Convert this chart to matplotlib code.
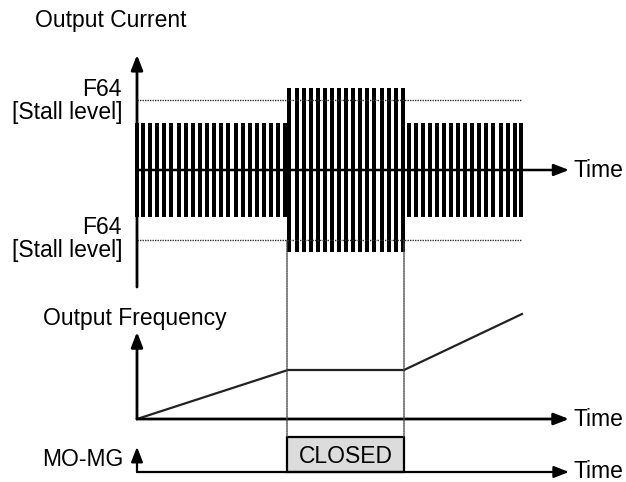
import matplotlib
matplotlib.use("Agg")
import matplotlib.pyplot as plt
from matplotlib.patches import Rectangle, ConnectionPatch

plt.rcParams['font.family'] = ['Liberation Sans', 'DejaVu Sans']

# ---------------- data ----------------
# pulse centres of the output current (time units)
normal_pulses_1 = [0, 6, 13, 20, 27, 34, 42, 49, 56, 63, 70, 77, 84, 91, 99,
                   106, 113, 120, 127, 134, 141, 148]
stall_pulses = [152, 160, 167, 174, 181, 188, 195, 202, 209, 216, 223, 230,
                237, 245, 252, 259, 266]
normal_pulses_2 = [272, 279, 286, 293, 300, 307, 314, 321, 328, 335, 342, 349,
                   356, 364, 371, 378, 384]
normal_amp = 1.0          # normal current peak
stall_amp = 1.75          # current peak during stall
stall_level = 1.5         # F64 stall level
time_end = 385

# output frequency profile
freq_t = [0, 151, 267, 385]
freq_v = [0, 49, 49, 105]

# MO-MG output
closed_start, closed_end = 150, 267

# ---------------- figure ----------------
W, H = 626, 482
FS = 16.5
fig = plt.figure(figsize=(W / 100, H / 100), dpi=100)
XL = (-137, 489)          # time axis mapped across full width


def band(ptop, pbot, ylim):
    ax = fig.add_axes([0, (H - pbot) / H, 1, (pbot - ptop) / H])
    ax.set_xlim(*XL)
    ax.set_ylim(*ylim)
    ax.axis('off')
    return ax


def arrow(ax, start, end, lw=2.0):
    ax.annotate('', xy=end, xytext=start,
                arrowprops=dict(arrowstyle='-|>,head_length=0.9,head_width=0.35',
                                lw=lw, color='black', shrinkA=0, shrinkB=0),
                annotation_clip=False)


def ftext(x, y, s, **kw):
    fig.text(x / W, 1 - y / H, s, fontsize=FS, color='black', **kw)


# current panel: 1 unit = 47 px, centre at y=170
ax1 = band(40, 300, (-2.766, 2.766))
for pulses, amp in ((normal_pulses_1, normal_amp), (stall_pulses, stall_amp),
                    (normal_pulses_2, normal_amp)):
    ax1.bar(pulses, [2 * amp] * len(pulses), bottom=-amp, width=3.4,
            color='black', linewidth=0, clip_on=False)
for lv in (stall_level, -stall_level):
    ax1.plot([0, time_end], [lv, lv], color='#333333', lw=1.0,
             linestyle=(0, (1, 0.8)), clip_on=False)
arrow(ax1, (0, -2.49), (0, 2.45), lw=2.0)
arrow(ax1, (0, 0), (432, 0), lw=1.8)

# frequency panel: 1 unit = 1 px, zero at y=419
ax2 = band(300, 440, (-21, 119))
ax2.plot(freq_t, freq_v, color='#222222', lw=1.6, clip_on=False)
arrow(ax2, (0, 0), (0, 87), lw=2.0)
arrow(ax2, (0, 0), (432, 0), lw=2.0)

# MO-MG panel: 1 unit = 35 px, zero at y=472
ax3 = band(425, 482, (-0.286, 1.343))
ax3.add_patch(Rectangle((closed_start, 0), closed_end - closed_start, 1,
                        facecolor='#dcdcdc', edgecolor='black', lw=1.6,
                        clip_on=False, zorder=3))
ax3.text((closed_start + closed_end) / 2, 0.45, 'CLOSED', ha='center',
         va='center', fontsize=FS, zorder=4)
arrow(ax3, (0, 0), (0, 0.72), lw=1.6)
arrow(ax3, (0, 0), (432, 0), lw=1.6)

# dotted guide lines
for t in (closed_start, closed_end):
    cp = ConnectionPatch(xyA=(t, -stall_level), coordsA=ax1.transData,
                         xyB=(t, 1), coordsB=ax3.transData,
                         color='#444444', lw=1.0, linestyle=(0, (1, 0.8)))
    fig.add_artist(cp)

# labels
ftext(35, 20, 'Output Current', ha='left', va='center')
ftext(122, 90, 'F64', ha='right', va='center')
ftext(122, 112, '[Stall level]', ha='right', va='center')
ftext(122, 227, 'F64', ha='right', va='center')
ftext(122, 250, '[Stall level]', ha='right', va='center')
ftext(574, 170, 'Time', ha='left', va='center')
ftext(43, 318, 'Output Frequency', ha='left', va='center')
ftext(574, 419, 'Time', ha='left', va='center')
ftext(123, 460, 'MO-MG', ha='right', va='center')
ftext(574, 472, 'Time', ha='left', va='center')

fig.savefig('out.png', dpi=100)
